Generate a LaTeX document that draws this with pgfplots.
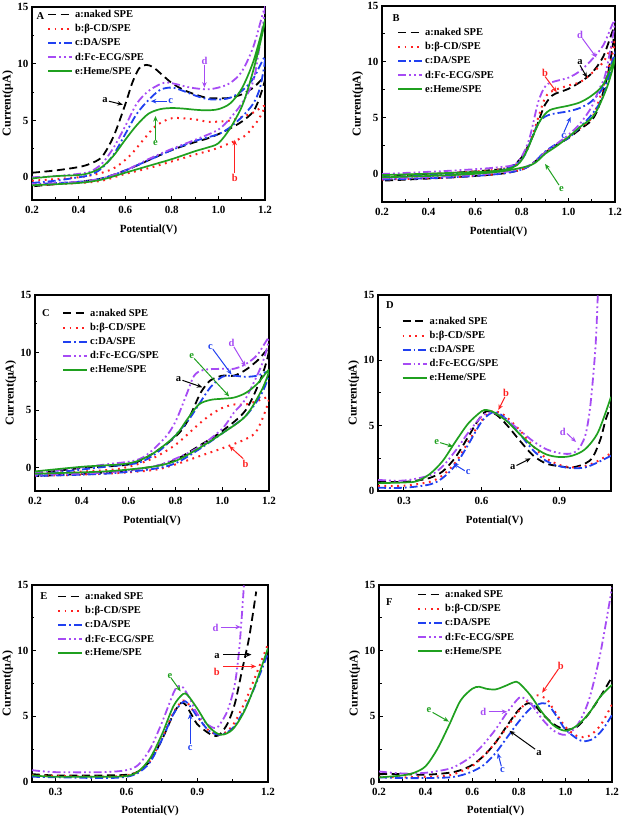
\documentclass[border=0pt]{standalone}
\usepackage{fontspec}
\setmainfont{Liberation Serif}
\usepackage{pgfplots}
\pgfplotsset{compat=1.18}
\usetikzlibrary{arrows.meta}
\definecolor{cred}{HTML}{FF2020}
\definecolor{cblue}{HTML}{2040F0}
\definecolor{cpurple}{HTML}{A64BF4}
\definecolor{cgreen}{HTML}{1FA01F}
\tikzset{
 sa/.style={black, line width=1.8pt, dash pattern=on 8pt off 4.5pt},
 sb/.style={cred, line width=2pt, dash pattern=on 1.8pt off 4.6pt},
 sc/.style={cblue, line width=1.8pt, dash pattern=on 8pt off 3pt on 1.8pt off 3pt},
 sd/.style={cpurple, line width=1.8pt, dash pattern=on 8pt off 3pt on 1.8pt off 3pt on 1.8pt off 3pt},
 se/.style={cgreen, line width=1.7pt},
 arr/.style={-{Stealth[length=5.5pt,width=4.5pt]}, line width=1pt},
 lab/.style={font=\bfseries\fontsize{10.5}{12}\selectfont, inner sep=1pt},
}
\pgfplotsset{
 panel/.style={scale only axis,
  axis line style={line width=1.2pt},
  tick align=inside, xtick pos=left, ytick pos=left,
  major tick length=4pt, minor tick length=2.5pt,
  every tick/.style={black, line width=1pt},
  minor x tick num=1, minor y tick num=1,
  ticklabel style={font=\bfseries\fontsize{11}{13}\selectfont},
  x tick label style={yshift=-3pt},
  /pgf/number format/assume math mode=true,
  x tick label style={/pgf/number format/.cd, fixed, fixed zerofill, precision=1},
  xlabel style={font=\bfseries\fontsize{11}{13}\selectfont, yshift=-4pt},
  ylabel style={font=\bfseries\fontsize{12}{14}\selectfont, yshift=-2.5pt},
  xlabel={Potential(V)}, ylabel={Current(μA)},
  ytick={0,5,10,15},
  legend style={draw=none, fill=none, font=\bfseries\fontsize{10.5}{12}\selectfont,
    anchor=north west, row sep=1.5pt, inner sep=0pt, cells={anchor=west}},
  legend image code/.code={\draw[##1] (0pt,0pt) -- (24pt,0pt);},
  every axis plot/.append style={smooth, tension=0.5},
 },
}
\begin{document}
\begin{tikzpicture}
\useasboundingbox (0,0) rectangle (624pt,817pt);
% ---------------- A ----------------
\begin{axis}[panel, at={(32pt,617pt)}, anchor=south west, width=233pt, height=193pt,
 xmin=0.2, xmax=1.2, ymin=-2, ymax=15, xtick={0.2,0.4,...,1.2},
 legend style={at={(0.064,0.995)}}]
\addplot[sa] coordinates {(0.2,0.4)(0.3,0.6)(0.4,0.9)(0.45,1.2)(0.5,1.8)(0.55,3.6)(0.6,6.4)(0.63,8.3)(0.66,9.6)(0.69,9.9)(0.72,9.7)(0.76,9.0)(0.8,8.3)(0.85,7.7)(0.9,7.3)(0.95,7.0)(1.0,6.95)(1.05,7.0)(1.1,7.3)(1.15,7.9)(1.2,8.8)
 (1.18,7.2)(1.15,5.8)(1.1,4.9)(1.05,4.3)(1.0,3.8)(0.95,3.4)(0.9,3.1)(0.8,2.4)(0.7,1.5)(0.6,0.6)(0.5,-0.1)(0.4,-0.4)(0.3,-0.6)(0.2,-0.8)};
\addlegendentry{a:naked SPE}
\addplot[sb] coordinates {(0.2,-0.3)(0.4,0.0)(0.5,0.4)(0.56,0.9)(0.62,1.9)(0.68,3.35)(0.73,4.5)(0.8,5.2)(0.9,5.1)(0.95,4.9)(1.0,4.9)(1.05,5.0)(1.1,5.3)(1.15,5.7)(1.2,6.3)
 (1.17,5.0)(1.15,4.5)(1.11,3.6)(1.0,2.6)(0.9,2.0)(0.8,1.4)(0.7,0.8)(0.6,0.3)(0.5,-0.3)(0.4,-0.5)(0.2,-0.7)};
\addlegendentry{b:β-CD/SPE}
\addplot[sc] coordinates {(0.2,-0.5)(0.3,-0.3)(0.4,0.0)(0.45,0.2)(0.5,0.8)(0.55,2.0)(0.6,3.8)(0.65,5.6)(0.7,6.8)(0.75,7.7)(0.8,7.9)(0.85,7.6)(0.9,7.2)(0.95,6.9)(1.0,6.85)(1.05,7.0)(1.1,7.6)(1.15,8.7)(1.2,10.6)
 (1.18,8.0)(1.15,6.5)(1.1,5.3)(1.05,4.4)(1.0,3.8)(0.9,3.2)(0.8,2.4)(0.7,1.5)(0.6,0.6)(0.5,-0.1)(0.4,-0.4)(0.2,-0.6)};
\addlegendentry{c:DA/SPE}
\addplot[sd] coordinates {(0.2,0.0)(0.3,0.1)(0.4,0.3)(0.45,0.5)(0.5,1.2)(0.55,2.6)(0.6,4.5)(0.65,6.5)(0.7,7.6)(0.75,8.2)(0.78,8.35)(0.82,8.2)(0.88,7.9)(0.95,7.75)(1.0,7.9)(1.05,8.3)(1.1,9.3)(1.15,11.5)(1.2,15)
 (1.18,12)(1.15,8.5)(1.1,6.5)(1.05,5.2)(1.0,4.2)(0.9,3.3)(0.8,2.5)(0.7,1.6)(0.6,0.6)(0.5,-0.1)(0.4,-0.4)(0.2,-0.6)};
\addlegendentry{d:Fc-ECG/SPE}
\addplot[se] coordinates {(0.2,-0.1)(0.3,0.1)(0.4,0.2)(0.45,0.4)(0.5,0.9)(0.55,1.9)(0.6,3.3)(0.65,4.6)(0.7,5.6)(0.75,6.0)(0.8,6.1)(0.85,6.05)(0.9,5.95)(0.95,5.9)(1.0,6.0)(1.05,6.5)(1.1,7.8)(1.15,10.2)(1.2,13.8)
 (1.17,11)(1.13,8)(1.1,6.2)(1.05,4.3)(1.0,3.0)(0.95,2.6)(0.9,2.3)(0.8,1.6)(0.7,1.0)(0.6,0.4)(0.5,-0.2)(0.4,-0.5)(0.2,-0.7)};
\addlegendentry{e:Heme/SPE}
\node[lab, anchor=west] at (rel axis cs:0.015,0.953) {A};
\draw[arr] (axis cs:0.53,6.7) -- (axis cs:0.59,6.4);
\node[lab, anchor=east] at (axis cs:0.53,6.8) {a};
\draw[arr, cblue] (axis cs:0.78,6.7) -- (axis cs:0.71,6.7);
\node[lab, anchor=west, cblue] at (axis cs:0.78,6.75) {c};
\draw[arr, cpurple] (axis cs:0.94,9.9) -- (axis cs:0.94,7.9);
\node[lab, anchor=south, cpurple] at (axis cs:0.94,9.8) {d};
\draw[arr, cgreen] (axis cs:0.73,3.3) -- (axis cs:0.73,5.4);
\node[lab, anchor=north, cgreen] at (axis cs:0.73,3.3) {e};
\draw[arr, cred] (axis cs:1.07,0.4) -- (axis cs:1.07,3.3);
\node[lab, anchor=north, cred] at (axis cs:1.07,0.4) {b};
\end{axis}
% ---------------- B ----------------
\begin{axis}[panel, at={(382pt,615pt)}, anchor=south west, width=233pt, height=196pt,
 xmin=0.2, xmax=1.2, ymin=-2.5, ymax=15, xtick={0.2,0.4,...,1.2},
 legend style={at={(0.064,0.898)}}]
\addplot[sa] coordinates {(0.2,-0.2)(0.5,0.1)(0.7,0.4)(0.75,0.6)(0.8,1.5)(0.85,3.5)(0.88,5.2)(0.9,6.2)(0.93,7.0)(0.96,7.3)(1.0,7.6)(1.05,8.2)(1.1,9.0)(1.15,10.5)(1.2,13.2)
 (1.17,9)(1.13,6)(1.1,4.8)(1.05,4)(1.0,3.2)(0.95,2.6)(0.9,1.9)(0.85,1.0)(0.8,0.4)(0.7,0.0)(0.5,-0.3)(0.2,-0.6)};
\addlegendentry{a:naked SPE}
\addplot[sb] coordinates {(0.2,-0.2)(0.5,0.1)(0.7,0.4)(0.78,0.9)(0.83,2.5)(0.87,5)(0.9,6.8)(0.93,7.4)(1.0,7.9)(1.05,8.2)(1.1,9.0)(1.15,10.0)(1.2,11.8)
 (1.16,8.5)(1.13,6.5)(1.1,5.0)(1.05,4.1)(1.0,3.3)(0.95,2.6)(0.9,1.9)(0.85,1.0)(0.8,0.4)(0.7,0.0)(0.5,-0.3)(0.2,-0.5)};
\addlegendentry{b:β-CD/SPE}
\addplot[sc] coordinates {(0.2,-0.3)(0.5,0.0)(0.7,0.3)(0.8,1.3)(0.85,3.6)(0.88,4.8)(0.92,5.3)(1.0,5.6)(1.05,5.9)(1.1,6.5)(1.15,7.8)(1.2,10.8)
 (1.15,7)(1.1,5.3)(1.05,4.2)(1.0,3.2)(0.95,2.7)(0.9,2.0)(0.85,1.0)(0.8,0.4)(0.7,0.0)(0.5,-0.3)(0.2,-0.5)};
\addlegendentry{c:DA/SPE}
\addplot[sd] coordinates {(0.2,0.0)(0.5,0.3)(0.7,0.6)(0.78,1.0)(0.83,3.0)(0.87,6.4)(0.9,7.8)(0.93,8.2)(1.0,8.6)(1.05,9.2)(1.1,10.2)(1.15,11.5)(1.2,13.7)
 (1.16,9)(1.13,7.5)(1.1,6)(1.05,4.5)(1.0,3.5)(0.95,2.7)(0.9,1.9)(0.85,1.0)(0.8,0.5)(0.7,0.1)(0.5,-0.2)(0.2,-0.4)};
\addlegendentry{d:Fc-ECG/SPE}
\addplot[se] coordinates {(0.2,-0.1)(0.5,0.1)(0.7,0.3)(0.78,0.8)(0.82,2.0)(0.85,3.5)(0.88,4.8)(0.92,5.7)(1.0,6.1)(1.05,6.4)(1.1,7.0)(1.15,8.0)(1.2,10.3)
 (1.17,8)(1.13,6)(1.1,5)(1.05,4.2)(1.0,3.3)(0.95,2.5)(0.9,1.8)(0.84,0.8)(0.7,0.2)(0.5,-0.1)(0.2,-0.3)};
\addlegendentry{e:Heme/SPE}
\node[lab, anchor=west] at (rel axis cs:0.04,0.94) {B};
\draw[arr] (axis cs:1.05,9.7) -- (axis cs:1.08,8.6);
\node[lab, anchor=south] at (axis cs:1.05,9.7) {a};
\draw[arr, cred] (axis cs:0.9,8.7) -- (axis cs:0.95,7.3);
\node[lab, anchor=south, cred] at (axis cs:0.9,8.6) {b};
\draw[arr, cpurple] (axis cs:1.06,12.1) -- (axis cs:1.12,10.4);
\node[lab, anchor=south, cpurple] at (axis cs:1.05,12.0) {d};
\draw[arr, cblue] (axis cs:0.98,3.7) -- (axis cs:1.01,5.1);
\node[lab, anchor=north, cblue] at (axis cs:0.98,3.7) {c};
\draw[arr, cgreen] (axis cs:0.96,-1.0) -- (axis cs:0.9,0.9);
\node[lab, anchor=north, cgreen] at (axis cs:0.97,-1.0) {e};
\end{axis}
% ---------------- C ----------------
\begin{axis}[panel, at={(35pt,326pt)}, anchor=south west, width=234pt, height=196pt,
 xmin=0.2, xmax=1.2, ymin=-2, ymax=15, xtick={0.2,0.4,...,1.2},
 legend style={at={(0.115,0.94)}}]
\addplot[sa] coordinates {(0.2,-0.5)(0.4,0.0)(0.6,0.3)(0.7,1.2)(0.8,2.7)(0.85,4.0)(0.9,6.2)(0.92,6.9)(0.95,7.6)(1.0,8.0)(1.05,8.0)(1.1,8.5)(1.15,9.3)(1.2,10.3)
 (1.17,8)(1.1,5)(1.0,3.2)(0.9,1.9)(0.8,0.7)(0.7,0.1)(0.5,-0.4)(0.2,-0.7)};
\addlegendentry{a:naked SPE}
\addplot[sb] coordinates {(0.2,-0.5)(0.5,-0.2)(0.6,0.1)(0.7,0.8)(0.8,2.0)(0.9,3.8)(0.95,4.6)(1.0,5.2)(1.05,5.5)(1.1,5.5)(1.15,5.8)(1.2,6.0)
 (1.15,3.3)(1.1,2.5)(1.0,1.7)(0.9,1.0)(0.8,0.3)(0.7,-0.2)(0.5,-0.5)(0.2,-0.7)};
\addlegendentry{b:β-CD/SPE}
\addplot[sc] coordinates {(0.2,-0.6)(0.5,0.1)(0.65,0.5)(0.75,1.8)(0.85,4.0)(0.9,5.5)(0.95,7.0)(1.0,7.9)(1.05,8.0)(1.1,7.9)(1.15,8.0)(1.2,8.3)
 (1.17,6.5)(1.1,4.5)(1.0,3.0)(0.9,1.6)(0.8,0.4)(0.7,-0.1)(0.5,-0.5)(0.2,-0.7)};
\addlegendentry{c:DA/SPE}
\addplot[sd] coordinates {(0.2,-0.4)(0.5,0.3)(0.65,0.8)(0.75,2.5)(0.8,4.0)(0.85,6.5)(0.88,8.0)(0.92,8.5)(1.0,8.6)(1.05,8.6)(1.1,9.0)(1.15,9.8)(1.2,11.3)
 (1.17,9)(1.1,6)(1.05,4.8)(1.0,3.4)(0.9,1.8)(0.8,0.8)(0.7,0.1)(0.5,-0.4)(0.2,-0.6)};
\addlegendentry{d:Fc-ECG/SPE}
\addplot[se] coordinates {(0.2,-0.3)(0.4,0.1)(0.6,0.4)(0.7,1.2)(0.8,2.8)(0.85,4.2)(0.9,5.5)(0.95,5.9)(1.0,6.0)(1.05,6.1)(1.1,6.5)(1.15,7.3)(1.2,8.5)
 (1.17,6.8)(1.1,4.5)(1.0,3.0)(0.9,1.7)(0.8,0.6)(0.7,0.1)(0.5,-0.3)(0.2,-0.5)};
\addlegendentry{e:Heme/SPE}
\node[lab, anchor=west] at (rel axis cs:0.025,0.91) {C};
\draw[arr] (axis cs:0.83,7.6) -- (axis cs:0.915,7.0);
\node[lab, anchor=east] at (axis cs:0.83,7.7) {a};
\draw[arr, cgreen] (axis cs:0.88,9.5) -- (axis cs:1.03,6.2);
\node[lab, anchor=south, cgreen] at (axis cs:0.87,9.4) {e};
\draw[arr, cblue] (axis cs:0.96,10.3) -- (axis cs:1.04,8.1);
\node[lab, anchor=south, cblue] at (axis cs:0.95,10.2) {c};
\draw[arr, cpurple] (axis cs:1.05,10.5) -- (axis cs:1.1,8.8);
\node[lab, anchor=south, cpurple] at (axis cs:1.04,10.4) {d};
\draw[arr, cred] (axis cs:1.09,0.8) -- (axis cs:1.03,1.9);
\node[lab, anchor=north, cred] at (axis cs:1.1,0.8) {b};
\end{axis}
% ---------------- D ----------------
\begin{axis}[panel, at={(378pt,326pt)}, anchor=south west, width=233pt, height=196pt,
 xmin=0.2, xmax=1.1, ymin=0, ymax=15, xtick={0.3,0.6,0.9},
 legend style={at={(0.10,0.90)}}]
\addplot[sa] coordinates {(0.2,0.7)(0.3,0.7)(0.35,0.8)(0.4,1.0)(0.45,1.5)(0.5,2.6)(0.55,4.2)(0.58,5.2)(0.61,6.0)(0.63,6.1)(0.66,5.8)(0.7,5.0)(0.75,3.8)(0.8,2.7)(0.85,2.1)(0.9,1.9)(0.95,1.8)(1.0,2.1)(1.03,2.6)(1.06,4.0)(1.08,5.5)(1.1,6.5)};
\addlegendentry{a:naked SPE}
\addplot[sb] coordinates {(0.2,0.4)(0.3,0.4)(0.4,0.7)(0.45,1.2)(0.5,2.2)(0.55,3.8)(0.6,5.4)(0.64,6.1)(0.67,6.0)(0.7,5.6)(0.75,4.6)(0.8,3.4)(0.85,2.5)(0.9,2.0)(0.95,1.8)(1.0,1.9)(1.05,2.3)(1.1,2.9)};
\addlegendentry{b:β-CD/SPE}
\addplot[sc] coordinates {(0.2,0.25)(0.3,0.25)(0.4,0.5)(0.45,1.0)(0.5,2.0)(0.55,3.6)(0.6,5.3)(0.64,6.0)(0.67,5.9)(0.7,5.4)(0.75,4.3)(0.8,3.1)(0.85,2.3)(0.9,1.9)(0.95,1.75)(1.0,1.8)(1.05,2.2)(1.1,2.7)};
\addlegendentry{c:DA/SPE}
\addplot[sd] coordinates {(0.2,0.85)(0.3,0.8)(0.4,1.2)(0.45,1.9)(0.5,3.1)(0.55,4.5)(0.6,5.7)(0.63,6.0)(0.66,5.9)(0.7,5.4)(0.75,4.6)(0.8,3.8)(0.85,3.2)(0.9,2.9)(0.94,2.85)(0.97,3.1)(1.0,4.2)(1.02,6.5)(1.04,11)(1.05,15.5)};
\addlegendentry{d:Fc-ECG/SPE}
\addplot[se] coordinates {(0.2,0.6)(0.3,0.65)(0.35,0.75)(0.4,1.3)(0.45,2.3)(0.5,3.8)(0.55,5.2)(0.6,6.1)(0.62,6.2)(0.65,6.0)(0.7,5.3)(0.75,4.3)(0.8,3.4)(0.85,2.8)(0.9,2.6)(0.95,2.7)(1.0,3.2)(1.05,4.5)(1.1,7.2)};
\addlegendentry{e:Heme/SPE}
\node[lab, anchor=west] at (rel axis cs:0.03,0.95) {D};
\draw[arr, cred] (axis cs:0.69,7.2) -- (axis cs:0.665,6.2);
\node[lab, anchor=south, cred] at (axis cs:0.695,7.1) {b};
\draw[arr, cgreen] (axis cs:0.44,3.7) -- (axis cs:0.49,3.4);
\node[lab, anchor=east, cgreen] at (axis cs:0.44,3.75) {e};
\draw[arr, cblue] (axis cs:0.535,1.55) -- (axis cs:0.49,2.1);
\node[lab, anchor=west, cblue] at (axis cs:0.535,1.45) {c};
\draw[arr] (axis cs:0.735,1.95) -- (axis cs:0.79,2.5);
\node[lab, anchor=east] at (axis cs:0.735,1.85) {a};
\draw[arr, cpurple] (axis cs:0.93,4.4) -- (axis cs:0.965,3.75);
\node[lab, anchor=east, cpurple] at (axis cs:0.93,4.5) {d};
\end{axis}
% ---------------- E ----------------
\begin{axis}[panel, at={(32pt,35pt)}, anchor=south west, width=236pt, height=197pt,
 xmin=0.2, xmax=1.2, ymin=0, ymax=15, xtick={0.3,0.6,0.9,1.2},
 xlabel style={yshift=1pt},
 legend style={at={(0.106,0.975)}}]
\addplot[sa] coordinates {(0.2,0.6)(0.3,0.5)(0.5,0.5)(0.6,0.55)(0.65,0.8)(0.7,1.6)(0.75,3.2)(0.8,5.2)(0.83,6.0)(0.85,5.9)(0.88,5.0)(0.9,4.4)(0.95,3.7)(0.98,3.5)(1.0,3.7)(1.03,4.5)(1.06,6.0)(1.09,8.5)(1.12,11)(1.15,14.5)};
\addlegendentry{a:naked SPE}
\addplot[sb] coordinates {(0.2,0.5)(0.5,0.4)(0.6,0.5)(0.65,0.8)(0.7,1.6)(0.75,3.3)(0.8,5.3)(0.84,6.2)(0.86,6.0)(0.9,5.0)(0.95,3.9)(1.0,3.6)(1.05,4.3)(1.1,6.0)(1.15,8.2)(1.2,10.5)};
\addlegendentry{b:β-CD/SPE}
\addplot[sc] coordinates {(0.2,0.4)(0.5,0.3)(0.6,0.4)(0.65,0.7)(0.7,1.5)(0.75,3.2)(0.8,5.2)(0.84,6.1)(0.86,6.0)(0.9,5.0)(0.95,3.9)(1.0,3.6)(1.05,4.1)(1.1,5.5)(1.15,7.5)(1.2,9.8)};
\addlegendentry{c:DA/SPE}
\addplot[sd] coordinates {(0.2,0.9)(0.3,0.75)(0.5,0.75)(0.6,0.9)(0.65,1.3)(0.7,2.5)(0.75,4.5)(0.8,6.8)(0.82,7.3)(0.84,7.2)(0.87,6.3)(0.9,5.2)(0.95,4.3)(0.98,4.1)(1.0,4.5)(1.03,5.5)(1.06,7.5)(1.08,10.5)(1.1,15.5)};
\addlegendentry{d:Fc-ECG/SPE}
\addplot[se] coordinates {(0.2,0.5)(0.3,0.4)(0.5,0.4)(0.6,0.45)(0.65,0.8)(0.7,1.8)(0.75,3.6)(0.8,5.8)(0.84,6.7)(0.86,6.6)(0.9,5.6)(0.95,4.2)(1.0,3.6)(1.05,4.0)(1.1,5.4)(1.15,7.6)(1.2,10.2)};
\addlegendentry{e:Heme/SPE}
\node[lab, anchor=west] at (rel axis cs:0.03,0.944) {E};
\draw[arr, cgreen] (axis cs:0.79,7.9) -- (axis cs:0.83,6.9);
\node[lab, anchor=south, cgreen] at (axis cs:0.785,7.8) {e};
\draw[arr, cblue] (axis cs:0.87,2.9) -- (axis cs:0.87,5.2);
\node[lab, anchor=north, cblue] at (axis cs:0.87,2.9) {c};
\draw[arr, cpurple] (axis cs:1.0,11.8) -- (axis cs:1.085,11.8);
\node[lab, anchor=east, cpurple] at (axis cs:0.995,11.7) {d};
\draw[arr] (axis cs:1.01,9.7) -- (axis cs:1.13,9.7);
\node[lab, anchor=east] at (axis cs:1.0,9.6) {a};
\draw[arr, cred] (axis cs:1.01,8.8) -- (axis cs:1.15,8.8);
\node[lab, anchor=east, cred] at (axis cs:1.0,8.4) {b};
\end{axis}
% ---------------- F ----------------
\begin{axis}[panel, at={(379pt,35pt)}, anchor=south west, width=233pt, height=197pt,
 xmin=0.2, xmax=1.2, ymin=0, ymax=15, xtick={0.2,0.4,...,1.2},
 xlabel style={yshift=1pt},
 legend style={at={(0.163,0.985)}}]
\addplot[sa] coordinates {(0.2,0.6)(0.3,0.6)(0.4,0.55)(0.5,0.7)(0.55,0.9)(0.6,1.3)(0.65,2.0)(0.7,3.0)(0.75,4.3)(0.8,5.5)(0.84,6.0)(0.87,5.8)(0.9,5.2)(0.95,4.4)(1.0,4.0)(1.05,4.2)(1.1,5.2)(1.15,6.5)(1.2,8.0)};
\addlegendentry{a:naked SPE}
\addplot[sb] coordinates {(0.2,0.4)(0.3,0.35)(0.4,0.4)(0.5,0.5)(0.55,0.8)(0.6,1.2)(0.65,2.0)(0.7,3.0)(0.75,4.2)(0.8,5.4)(0.85,6.4)(0.88,6.6)(0.92,6.3)(0.95,5.5)(1.0,4.2)(1.05,3.5)(1.1,3.5)(1.15,4.3)(1.2,5.9)};
\addlegendentry{b:β-CD/SPE}
\addplot[sc] coordinates {(0.2,0.35)(0.3,0.3)(0.4,0.3)(0.5,0.35)(0.55,0.5)(0.6,0.8)(0.65,1.3)(0.7,2.2)(0.75,3.4)(0.8,4.6)(0.85,5.6)(0.9,6.0)(0.93,5.8)(0.97,4.8)(1.0,4.0)(1.05,3.3)(1.08,3.1)(1.12,3.3)(1.16,4.0)(1.2,5.1)};
\addlegendentry{c:DA/SPE}
\addplot[sd] coordinates {(0.2,0.8)(0.3,0.65)(0.4,0.7)(0.5,1.0)(0.55,1.4)(0.6,2.0)(0.65,2.9)(0.7,4.0)(0.75,5.3)(0.8,6.4)(0.82,6.4)(0.85,6.0)(0.9,4.8)(0.95,3.9)(1.0,3.6)(1.05,4.3)(1.1,6.2)(1.15,9.8)(1.2,14.8)};
\addlegendentry{d:Fc-ECG/SPE}
\addplot[se] coordinates {(0.2,0.35)(0.3,0.5)(0.35,0.7)(0.4,1.2)(0.45,2.5)(0.5,4.3)(0.55,6.2)(0.6,7.1)(0.63,7.25)(0.66,7.1)(0.7,7.05)(0.74,7.3)(0.78,7.6)(0.8,7.55)(0.85,6.6)(0.9,5.3)(0.95,4.3)(1.0,3.9)(1.05,4.3)(1.1,5.2)(1.15,6.5)(1.2,7.4)};
\addlegendentry{e:Heme/SPE}
\node[lab, anchor=west] at (rel axis cs:0.025,0.914) {F};
\draw[arr, cred] (axis cs:0.97,8.6) -- (axis cs:0.9,6.8);
\node[lab, anchor=south, cred] at (axis cs:0.98,8.5) {b};
\draw[arr, cgreen] (axis cs:0.43,5.3) -- (axis cs:0.5,4.6);
\node[lab, anchor=east, cgreen] at (axis cs:0.43,5.45) {e};
\draw[arr, cpurple] (axis cs:0.67,5.35) -- (axis cs:0.75,5.35);
\node[lab, anchor=east, cpurple] at (axis cs:0.665,5.3) {d};
\draw[arr] (axis cs:0.87,2.5) -- (axis cs:0.76,3.9);
\node[lab, anchor=north west] at (axis cs:0.87,2.5) {a};
\draw[arr, cblue] (axis cs:0.725,1.2) -- (axis cs:0.71,2.2);
\node[lab, anchor=north, cblue] at (axis cs:0.73,1.2) {c};
\end{axis}
\end{tikzpicture}
\end{document}
